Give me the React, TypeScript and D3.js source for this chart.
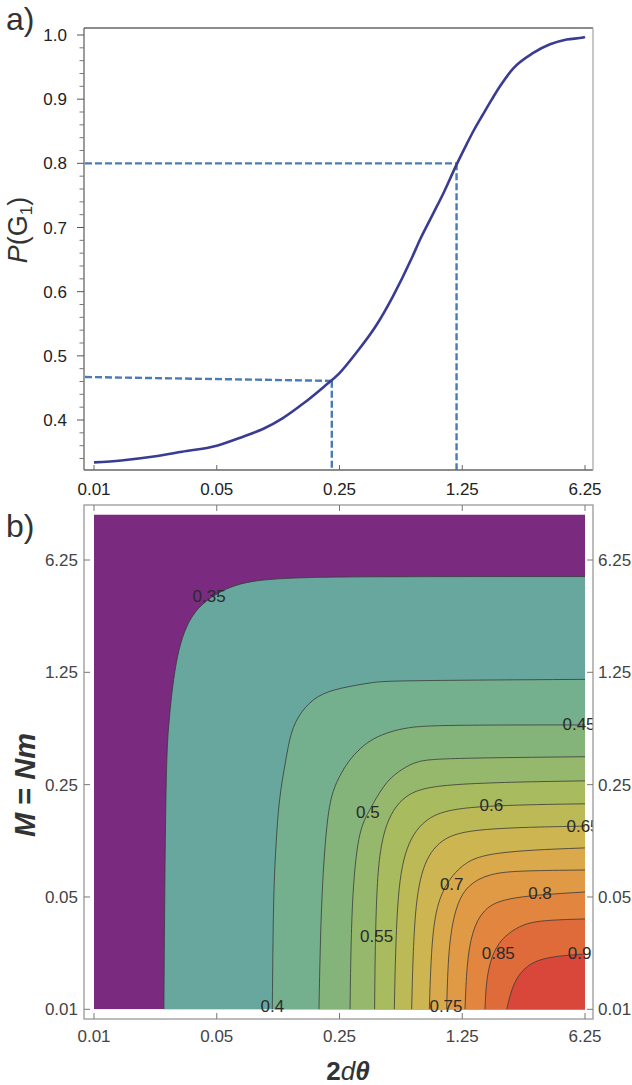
import React from "react";
import * as d3 from "d3";

// ---------- Panel a data: P(G1) versus 2dθ ----------
const thetaA = [0.01, 0.0143, 0.0219, 0.0317, 0.05, 0.0705, 0.0916, 0.119, 0.156, 0.204, 0.25, 0.31, 0.406, 0.502, 0.644, 0.718, 0.855, 0.975, 1.16, 1.325, 1.445, 1.647, 1.846, 2.05, 2.441, 3.17, 3.95, 4.92, 6.11, 6.25];
const probA = [0.334, 0.337, 0.343, 0.3505, 0.36, 0.374, 0.386, 0.403, 0.426, 0.452, 0.473, 0.504, 0.548, 0.592, 0.652, 0.681, 0.722, 0.753, 0.798, 0.83, 0.85, 0.877, 0.9, 0.92, 0.948, 0.972, 0.9855, 0.993, 0.996, 0.997];

// dashed guide lines
const guideTheta = [0.226, 1.16];
const guideProbLeft = [0.467, 0.8];
const guideProbRight = [0.461, 0.8];

const xTickValues = [0.01, 0.05, 0.25, 1.25, 6.25];
const xTickLabels = ["0.01", "0.05", "0.25", "1.25", "6.25"];
const probTickValues = [0.4, 0.5, 0.6, 0.7, 0.8, 0.9, 1.0];
const probTickLabels = ["0.4", "0.5", "0.6", "0.7", "0.8", "0.9", "1.0"];
const probMinorTicks = [0.34, 0.36, 0.38, 0.42, 0.44, 0.46, 0.48, 0.52, 0.54, 0.56, 0.58, 0.62, 0.64, 0.66, 0.68, 0.72, 0.74, 0.76, 0.78, 0.82, 0.84, 0.86, 0.88, 0.92, 0.94, 0.96, 0.98];

// ---------- Panel b data: contour plot over (2dθ, M = Nm) ----------
const mTickValues = [0.01, 0.05, 0.25, 1.25, 6.25];
const mTickLabels = ["0.01", "0.05", "0.25", "1.25", "6.25"];
const thetaRange = [0.01, 6.25];
const mRange = [0.01, 12];

const levels = [0.35, 0.4, 0.45, 0.5, 0.55, 0.6, 0.65, 0.7, 0.75, 0.8, 0.85, 0.9];
const bandColors = ["#7A2A7F", "#67A79E", "#74B08D", "#85B47B", "#96B86C", "#A8BB5F", "#BBBA57", "#CDB551", "#D9A94B", "#E09945", "#E2853F", "#DF6B3B", "#D8473A"];

// contour lines as [2dθ, M] points (from the bottom edge round to the right edge)
const c035 = [[0.025, 0.01], [0.0256, 0.332], [0.0267, 0.617], [0.0279, 1.0], [0.0298, 1.6], [0.0325, 2.24], [0.0371, 2.98], [0.0462, 3.7], [0.06, 4.27], [0.078, 4.63], [0.121, 4.82], [0.252, 4.93], [6.25, 4.93]];
const c040 = [[0.1036, 0.01], [0.105, 0.0493], [0.1083, 0.101], [0.1131, 0.207], [0.1235, 0.351], [0.1318, 0.534], [0.15, 0.712], [0.187, 0.904], [0.252, 1.0], [0.389, 1.085], [0.485, 1.11], [6.25, 1.13]];
const c045 = [[0.191, 0.01], [0.194, 0.0241], [0.1995, 0.0623], [0.213, 0.162], [0.2295, 0.232], [0.252, 0.287], [0.281, 0.351], [0.327, 0.421], [0.389, 0.486], [0.485, 0.534], [0.603, 0.566], [0.855, 0.588], [6.25, 0.588]];
const c050 = [[0.287, 0.01], [0.293, 0.0493], [0.32, 0.1275], [0.363, 0.1667], [0.454, 0.26], [0.567, 0.313], [0.688, 0.351], [0.934, 0.365], [6.25, 0.373]];
const c055 = [[0.396, 0.01], [0.403, 0.0623], [0.444, 0.14], [0.577, 0.221], [0.934, 0.255], [6.25, 0.264]];
const c060 = [[0.513, 0.01], [0.529, 0.0493], [0.59, 0.1054], [0.784, 0.162], [1.325, 0.185], [6.25, 0.19]];
const c065 = [[0.644, 0.01], [0.664, 0.0386], [0.735, 0.0791], [0.934, 0.116], [1.445, 0.134], [6.25, 0.138]];
const c070 = [[0.812, 0.01], [0.838, 0.0304], [0.934, 0.0539], [1.214, 0.0791], [1.722, 0.0957], [6.25, 0.101]];
const c075 = [[1.019, 0.01], [1.041, 0.0241], [1.137, 0.0427], [1.325, 0.0594], [1.799, 0.0705], [2.772, 0.0729], [6.25, 0.0736]];
const c080 = [[1.296, 0.01], [1.325, 0.0189], [1.415, 0.0304], [1.647, 0.0425], [2.239, 0.0502], [6.25, 0.0537]];
const c085 = [[1.684, 0.01], [1.722, 0.0171], [1.964, 0.0264], [2.666, 0.0335], [3.465, 0.0358], [6.25, 0.0365]];
const c090 = [[2.239, 0.01], [2.441, 0.01485], [2.91, 0.0189], [3.783, 0.02125], [6.25, 0.0221]];
const contourPoints = [c035, c040, c045, c050, c055, c060, c065, c070, c075, c080, c085, c090];

const labelText = ["0.35", "0.4", "0.45", "0.5", "0.55", "0.6", "0.65", "0.7", "0.75", "0.8", "0.85", "0.9"];
const labelTheta = [0.0452, 0.1036, 5.78, 0.363, 0.407, 1.83, 6.09, 1.089, 1.01, 3.465, 2.005, 5.83];
const labelM = [3.69, 0.0104, 0.588, 0.1667, 0.0283, 0.185, 0.138, 0.0594, 0.0104, 0.0527, 0.0223, 0.0221];

const FONT = "'Liberation Sans', Arial, Helvetica, sans-serif";

export default function App() {
  const W = 632;
  const H = 1085;
  const A = { l: 84, r: 593, t: 28, b: 470 };
  const B = { l: 84, r: 593, t: 505, b: 1019 };

  const x = d3.scaleLog().domain([0.01, 6.25]).range([94, 585]);
  const yA = d3.scaleLinear().domain([0.4, 1.0]).range([420, 35]);
  const yB = d3.scaleLog().domain([0.01, 6.25]).range([1009.3, 560]);

  const curveA = d3
    .line<number>()
    .x((_, i) => x(thetaA[i]))
    .y((d) => yA(d))
    .curve(d3.curveMonotoneX)(probA) as string;

  const cLine = d3
    .line<number[]>()
    .x((d) => x(d[0]))
    .y((d) => yB(d[1]))
    .curve(d3.curveBasis);

  const fx0 = x(thetaRange[0]);
  const fx1 = x(thetaRange[1]);
  const fy0 = yB(mRange[1]);
  const fy1 = yB(mRange[0]);

  const regionPaths = contourPoints.map(
    (pts) => `${cLine(pts)}L${fx1},${fy1 + 2}L${x(pts[0][0])},${fy1 + 2}Z`
  );
  const linePaths = contourPoints.map((pts) => cLine(pts) as string);

  const dashColor = "#4A7BB8";

  return (
    <svg
      width={W}
      height={H}
      viewBox={`0 0 ${W} ${H}`}
      style={{ position: "absolute", left: 0, top: 0, background: "#fff" }}
      fontFamily={FONT}
    >
      <defs>
        <clipPath id="fillClip">
          <rect x={fx0} y={fy0} width={fx1 - fx0} height={fy1 - fy0} />
        </clipPath>
        <clipPath id="frameClipB">
          <rect x={B.l} y={B.t} width={B.r - B.l} height={B.b - B.t} />
        </clipPath>
      </defs>
      <rect x={0} y={0} width={W} height={H} fill="#fff" />

      {/* ================= Panel a ================= */}
      <text x={6} y={30} fontSize={32} fill="#333">a)</text>

      {/* dashed guides */}
      {guideTheta.map((g, i) => (
        <g key={"g" + i}>
          <line
            x1={A.l + 1}
            y1={yA(guideProbLeft[i])}
            x2={x(g)}
            y2={yA(guideProbRight[i])}
            stroke={dashColor}
            strokeWidth={2.4}
            strokeDasharray="7 3"
          />
          <line
            x1={x(g)}
            y1={yA(guideProbRight[i])}
            x2={x(g)}
            y2={A.b}
            stroke={dashColor}
            strokeWidth={2.4}
            strokeDasharray="7 3"
          />
        </g>
      ))}

      {/* curve */}
      <path d={curveA} fill="none" stroke="#393C93" strokeWidth={2.6} strokeLinejoin="round" />

      {/* frame */}
      <line x1={A.l} y1={A.t} x2={A.r} y2={A.t} stroke="#666" strokeWidth={1.3} />
      <line x1={A.l} y1={A.t} x2={A.l} y2={A.b} stroke="#666" strokeWidth={1.3} />
      <line x1={A.l} y1={A.b} x2={A.r} y2={A.b} stroke="#666" strokeWidth={1.3} />
      <line x1={A.r} y1={A.t} x2={A.r} y2={A.b} stroke="#aaa" strokeWidth={1.3} />

      {/* y ticks (outward) */}
      {probTickValues.map((v, i) => (
        <g key={"ya" + i}>
          <line x1={A.l - 7} y1={yA(v)} x2={A.l} y2={yA(v)} stroke="#555" strokeWidth={1} />
          <text x={67} y={yA(v) + 6} textAnchor="end" fontSize={17} fill="#222">
            {probTickLabels[i]}
          </text>
        </g>
      ))}
      {probMinorTicks.map((v, i) => (
        <line key={"ym" + i} x1={A.l - 4.5} y1={yA(v)} x2={A.l} y2={yA(v)} stroke="#777" strokeWidth={1} />
      ))}

      {/* x ticks (inward) */}
      {xTickValues.map((v, i) => (
        <g key={"xa" + i}>
          <line x1={x(v)} y1={A.b} x2={x(v)} y2={A.b - 5} stroke="#666" strokeWidth={1} />
          <text x={x(v)} y={495} textAnchor="middle" fontSize={17} fill="#222">
            {xTickLabels[i]}
          </text>
        </g>
      ))}

      {/* y title */}
      <text transform="translate(27,230) rotate(-90)" textAnchor="middle" fontSize={27} fill="#333">
        <tspan fontStyle="italic">P</tspan>
        <tspan>(G</tspan>
        <tspan fontSize={17} dy={5}>1</tspan>
        <tspan dy={-5}>)</tspan>
      </text>

      {/* ================= Panel b ================= */}
      <text x={6} y={537} fontSize={32} fill="#333">b)</text>

      <g clipPath="url(#fillClip)">
        <rect x={fx0} y={fy0} width={fx1 - fx0} height={fy1 - fy0} fill={bandColors[0]} />
        {regionPaths.map((d, i) => (
          <path key={"r" + i} d={d} fill={bandColors[i + 1]} stroke="none" />
        ))}
        {linePaths.map((d, i) => (
          <path key={"l" + i} d={d} fill="none" stroke="#3a3a3a" strokeOpacity={0.8} strokeWidth={1} />
        ))}
      </g>

      {/* contour labels */}
      <g clipPath="url(#frameClipB)">
        {labelText.map((t, i) => (
          <text
            key={"cl" + i}
            x={x(labelTheta[i])}
            y={yB(labelM[i])}
            textAnchor="middle"
            dominantBaseline="central"
            fontSize={17}
            fill="#2b2b2b"
          >
            {t}
          </text>
        ))}
      </g>

      {/* frame b */}
      <rect x={B.l} y={B.t} width={B.r - B.l} height={B.b - B.t} fill="none" stroke="#999" strokeWidth={1.3} />

      {/* ticks b (inward) */}
      {xTickValues.map((v, i) => (
        <g key={"xb" + i}>
          <line x1={x(v)} y1={B.b} x2={x(v)} y2={B.b - 6} stroke="#777" strokeWidth={1} />
          <line x1={x(v)} y1={B.t} x2={x(v)} y2={B.t + 6} stroke="#777" strokeWidth={1} />
          <text x={x(v)} y={1041.5} textAnchor="middle" fontSize={17} fill="#444">
            {xTickLabels[i]}
          </text>
        </g>
      ))}
      {mTickValues.map((v, i) => (
        <g key={"mb" + i}>
          <line x1={B.l} y1={yB(v)} x2={B.l + 6} y2={yB(v)} stroke="#777" strokeWidth={1} />
          <line x1={B.r} y1={yB(v)} x2={B.r - 6} y2={yB(v)} stroke="#777" strokeWidth={1} />
          <text x={78} y={yB(v) + 6} textAnchor="end" fontSize={17} fill="#444">
            {mTickLabels[i]}
          </text>
          <text x={598} y={yB(v) + 6} textAnchor="start" fontSize={17} fill="#444">
            {mTickLabels[i]}
          </text>
        </g>
      ))}

      {/* y title b */}
      <text transform="translate(35,785) rotate(-90)" textAnchor="middle" fontSize={29} fontWeight="bold" fill="#333">
        <tspan fontStyle="italic">M</tspan>
        <tspan> = </tspan>
        <tspan fontStyle="italic">Nm</tspan>
      </text>

      {/* x title b */}
      <text x={348} y={1080} textAnchor="middle" fontSize={26} fill="#333">
        <tspan fontWeight="bold">2</tspan>
        <tspan fontStyle="italic">d</tspan>
        <tspan fontStyle="italic" fontWeight="bold">θ</tspan>
      </text>
    </svg>
  );
}
